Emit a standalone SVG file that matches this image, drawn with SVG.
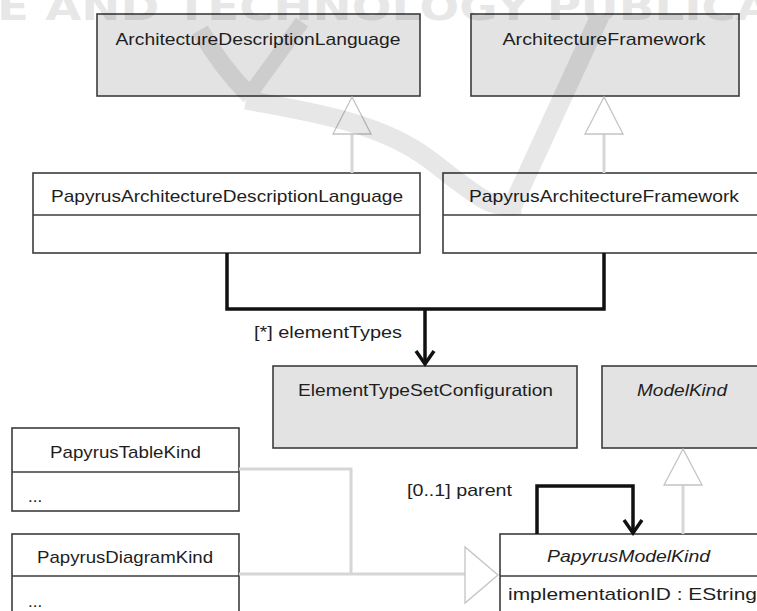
<svg xmlns="http://www.w3.org/2000/svg" width="757" height="611" viewBox="0 0 757 611">
  <defs>
    <style>
      .lbl { font-family: "Liberation Sans", Arial, sans-serif; font-size: 17px; fill: #1e1e1e; }
      .it { font-style: italic; }
      .gbox { fill: #e3e3e3; stroke: #3c3c3c; stroke-width: 1.6; }
      .wbox { fill: #ffffff; stroke: #3c3c3c; stroke-width: 1.6; }
      .div { stroke: #3c3c3c; stroke-width: 1.6; }
      .assoc { fill: none; stroke: #111; stroke-width: 3.5; }
      .gen { fill: none; stroke: #d6d6d6; stroke-width: 3; }
      .tri { fill: #ffffff; stroke: #c4c4c4; stroke-width: 1.3; }
    </style>
  </defs>
  <rect x="0" y="0" width="757" height="611" fill="#ffffff"/>

  <g id="ArchitectureDescriptionLanguage">
    <rect class="gbox" x="97" y="14" width="323" height="82"/>
    <text class="lbl" x="258" y="45" text-anchor="middle" textLength="285" lengthAdjust="spacingAndGlyphs">ArchitectureDescriptionLanguage</text>
  </g>
  <g id="ArchitectureFramework">
    <rect class="gbox" x="471" y="14" width="268" height="82"/>
    <text class="lbl" x="604" y="45" text-anchor="middle" textLength="203" lengthAdjust="spacingAndGlyphs">ArchitectureFramework</text>
  </g>
  <g id="PapyrusArchitectureDescriptionLanguage">
    <rect class="wbox" x="33" y="173" width="387" height="80"/>
    <line class="div" x1="33" y1="215" x2="420" y2="215"/>
    <text class="lbl" x="227" y="202" text-anchor="middle" textLength="352" lengthAdjust="spacingAndGlyphs">PapyrusArchitectureDescriptionLanguage</text>
  </g>
  <g id="PapyrusArchitectureFramework">
    <rect class="wbox" x="443" y="173" width="330" height="80"/>
    <line class="div" x1="443" y1="215" x2="773" y2="215"/>
    <text class="lbl" x="469" y="202" textLength="270" lengthAdjust="spacingAndGlyphs">PapyrusArchitectureFramework</text>
  </g>
  <g id="ElementTypeSetConfiguration">
    <rect class="gbox" x="273" y="366" width="304" height="82"/>
    <text class="lbl" x="298" y="396" textLength="255" lengthAdjust="spacingAndGlyphs">ElementTypeSetConfiguration</text>
  </g>
  <g id="ModelKind">
    <rect class="gbox" x="602" y="366" width="170" height="82"/>
    <text class="lbl it" x="637" y="396" textLength="90" lengthAdjust="spacingAndGlyphs">ModelKind</text>
  </g>
  <g id="PapyrusTableKind">
    <rect class="wbox" x="12" y="428" width="227" height="83"/>
    <line class="div" x1="12" y1="472" x2="239" y2="472"/>
    <text class="lbl" x="50" y="458" textLength="151" lengthAdjust="spacingAndGlyphs">PapyrusTableKind</text>
    <text class="lbl" x="28" y="502" font-size="13">...</text>
  </g>
  <g id="PapyrusDiagramKind">
    <rect class="wbox" x="12" y="534" width="227" height="90"/>
    <line class="div" x1="12" y1="576" x2="239" y2="576"/>
    <text class="lbl" x="37" y="563" textLength="176" lengthAdjust="spacingAndGlyphs">PapyrusDiagramKind</text>
    <text class="lbl" x="28" y="607" font-size="13">...</text>
  </g>
  <g id="PapyrusModelKind">
    <rect class="wbox" x="500" y="534" width="270" height="90"/>
    <line class="div" x1="500" y1="576" x2="770" y2="576"/>
    <text class="lbl it" x="547" y="562" textLength="163" lengthAdjust="spacingAndGlyphs">PapyrusModelKind</text>
    <text class="lbl" x="508" y="600" textLength="249" lengthAdjust="spacingAndGlyphs">implementationID : EString</text>
  </g>

  <g id="connectors">
    <line class="gen" x1="352" y1="134" x2="352" y2="173"/>
    <polygon class="tri" points="352,97 333,134 371,134"/>
    <line class="gen" x1="604" y1="134" x2="604" y2="173"/>
    <polygon class="tri" points="604,97 585,134 623,134"/>
    <line class="gen" x1="683" y1="485" x2="683" y2="534"/>
    <polygon class="tri" points="683,449 664,485 702,485"/>
    <polyline class="gen" points="239,469 351,469 351,575"/>
    <line class="gen" x1="239" y1="574" x2="465" y2="574"/>
    <polygon class="tri" points="498,575 465,547 465,603"/>
    <path class="assoc" d="M227 253 V309 H604 V253"/>
    <path class="assoc" d="M425 309 V363"/>
    <polyline class="assoc" points="416,351 425,364 434,351"/>
    <text class="lbl" x="254" y="338" textLength="148" lengthAdjust="spacingAndGlyphs">[*] elementTypes</text>
    <path class="assoc" d="M537 534 V486 H633 V532"/>
    <polyline class="assoc" points="624,520 633,533 642,520"/>
    <text class="lbl" x="407" y="496" textLength="105" lengthAdjust="spacingAndGlyphs">[0..1] parent</text>
  </g>

  <g id="watermark" opacity="0.09">
    <text x="-3" y="20" font-family="'DejaVu Sans', sans-serif" font-weight="bold" font-size="38" fill="#000" textLength="775" lengthAdjust="spacingAndGlyphs">E AND TECHNOLOGY PUBLICA</text>
    <path d="M200 30 Q 222 68 250 96" fill="none" stroke="#000" stroke-width="18"/>
    <path d="M302 22 L 250 94" fill="none" stroke="#000" stroke-width="15"/>
    <path d="M246 100 C 310 112, 380 122, 430 160 S 490 210, 520 205" fill="none" stroke="#000" stroke-width="19"/>
    <path d="M512 207 L 600 16" fill="none" stroke="#000" stroke-width="19"/>
  </g>
</svg>
